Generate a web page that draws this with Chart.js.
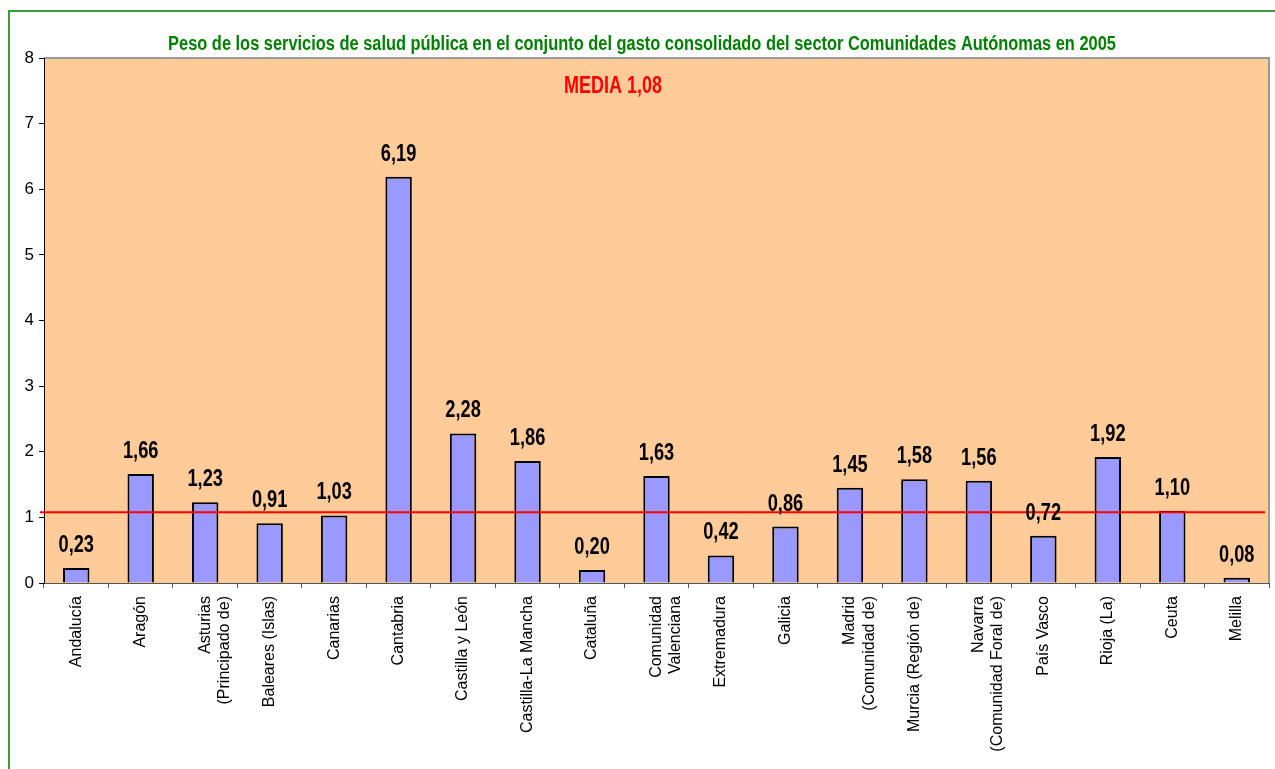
<!DOCTYPE html>
<html>
<head>
<meta charset="utf-8">
<script src="https://cdn.jsdelivr.net/npm/chart.js@4.4.1/dist/chart.umd.min.js"></script>
<style>
  html, body { margin: 0; padding: 0; overflow: hidden; background: #fff; }
  #frame { position: absolute; left: 8px; top: 10px; width: 1400px; height: 900px; border: 2px solid #3a9a3a; box-sizing: border-box; }
  #wrap { position: absolute; left: 0; top: 0; width: 1275px; height: 769px; }
</style>
</head>
<body>
<div id="frame"></div>
<div id="wrap"><canvas id="chart" width="1275" height="769"></canvas></div>
<script>
// Comunidades Autónomas, 2005
const regions = [
    'Andalucía', 'Aragón', ['Asturias', '(Principado de)'], 'Baleares (Islas)', 'Canarias',
    'Cantabria', 'Castilla y León', 'Castilla-La Mancha', 'Cataluña', ['Comunidad', 'Valenciana'],
    'Extremadura', 'Galicia', ['Madrid', '(Comunidad de)'], 'Murcia (Región de)',
    ['Navarra', '(Comunidad Foral de)'], 'País Vasco', 'Rioja (La)', 'Ceuta', 'Melilla'
];
const peso = [0.23, 1.66, 1.23, 0.91, 1.03, 6.19, 2.28, 1.86, 0.20, 1.63, 0.42, 0.86, 1.45, 1.58, 1.56, 0.72, 1.92, 1.10, 0.08];
const media = 1.08;
const yTicks = [0, 1, 2, 3, 4, 5, 6, 7, 8];
const titulo = 'Peso de los servicios de salud pública en el conjunto del gasto consolidado del sector Comunidades Autónomas en 2005';

const sans = "'Liberation Sans', Arial, sans-serif";
const fmt = v => v.toFixed(2).replace('.', ',');

// no Arial Narrow here, so squeeze Arial-like text horizontally
function narrowText(ctx, text, x, y, size, color, sx) {
    ctx.save();
    ctx.translate(x, y);
    ctx.scale(sx || 0.82, 1);
    ctx.font = 'bold ' + size + 'px ' + sans;
    ctx.fillStyle = color;
    ctx.textAlign = 'center';
    ctx.fillText(text, 0, 0);
    ctx.restore();
}

// peach plot background with grey frame
const plotArea = {
    id: 'plotArea',
    beforeDraw(chart) {
        const { ctx, chartArea: a } = chart;
        ctx.save();
        ctx.fillStyle = '#FFCC99';
        ctx.fillRect(a.left, a.top, a.right - a.left, a.bottom - a.top);
        ctx.strokeStyle = '#999999';
        ctx.lineWidth = 2;
        ctx.beginPath();
        ctx.moveTo(a.left, a.top);
        ctx.lineTo(a.right, a.top);
        ctx.lineTo(a.right, a.bottom);
        ctx.stroke();
        ctx.restore();
        ctx.save();
        ctx.textBaseline = 'middle';
        narrowText(ctx, titulo, 642, 44, 20, '#008000');
        ctx.restore();
    }
};

// red mean line + caption
const mediaLine = {
    id: 'mediaLine',
    afterDatasetsDraw(chart) {
        const { ctx, chartArea: a, scales } = chart;
        const y = scales.y.getPixelForValue(media);
        ctx.save();
        ctx.strokeStyle = '#FF0000';
        ctx.lineWidth = 2;
        ctx.beginPath();
        ctx.moveTo(a.left - 4, y);
        ctx.lineTo(a.right - 4, y);
        ctx.stroke();
        ctx.textBaseline = 'middle';
        narrowText(ctx, 'MEDIA ' + fmt(media), 613, 86, 24, '#FF0000', 0.75);
        ctx.restore();
    }
};

// values above bars
const barValues = {
    id: 'barValues',
    afterDraw(chart) {
        const { ctx } = chart;
        const meta = chart.getDatasetMeta(0);
        ctx.save();
        ctx.textBaseline = 'alphabetic';
        meta.data.forEach((bar, i) => {
            narrowText(ctx, fmt(peso[i]), bar.x, bar.y - 16, 24, '#000', 0.76);
        });
        ctx.restore();
    }
};

new Chart(document.getElementById('chart'), {
    type: 'bar',
    data: {
        labels: regions,
        datasets: [{
            data: peso,
            backgroundColor: '#9999FF',
            borderColor: '#000000',
            borderWidth: 2,
            categoryPercentage: 1,
            barPercentage: 0.41
        }]
    },
    options: {
        responsive: false,
        animation: false,
        layout: { padding: { left: 0, right: 6, top: 58, bottom: 0 } },
        plugins: {
            legend: { display: false },
            tooltip: { enabled: false },
            title: { display: false }
        },
        scales: {
            x: {
                grid: { drawOnChartArea: false, offset: true, tickLength: 5, color: '#555' },
                border: { color: '#555', width: 1 },
                ticks: {
                    autoSkip: false,
                    maxRotation: 90,
                    minRotation: 90,
                    padding: 8,
                    color: '#000',
                    font: { family: sans, size: 16 }
                },
                afterFit(scale) { scale.height = 186; }
            },
            y: {
                min: 0,
                max: 8,
                afterBuildTicks(scale) { scale.ticks = yTicks.map(v => ({ value: v })); },
                grid: { drawOnChartArea: false, tickLength: 5, color: '#000' },
                border: { color: '#000', width: 1 },
                ticks: {
                    padding: 5,
                    color: '#000',
                    font: { family: sans, size: 17 }
                },
                afterFit(scale) { scale.width = 44; }
            }
        }
    },
    plugins: [plotArea, mediaLine, barValues]
});
</script>
</body>
</html>
